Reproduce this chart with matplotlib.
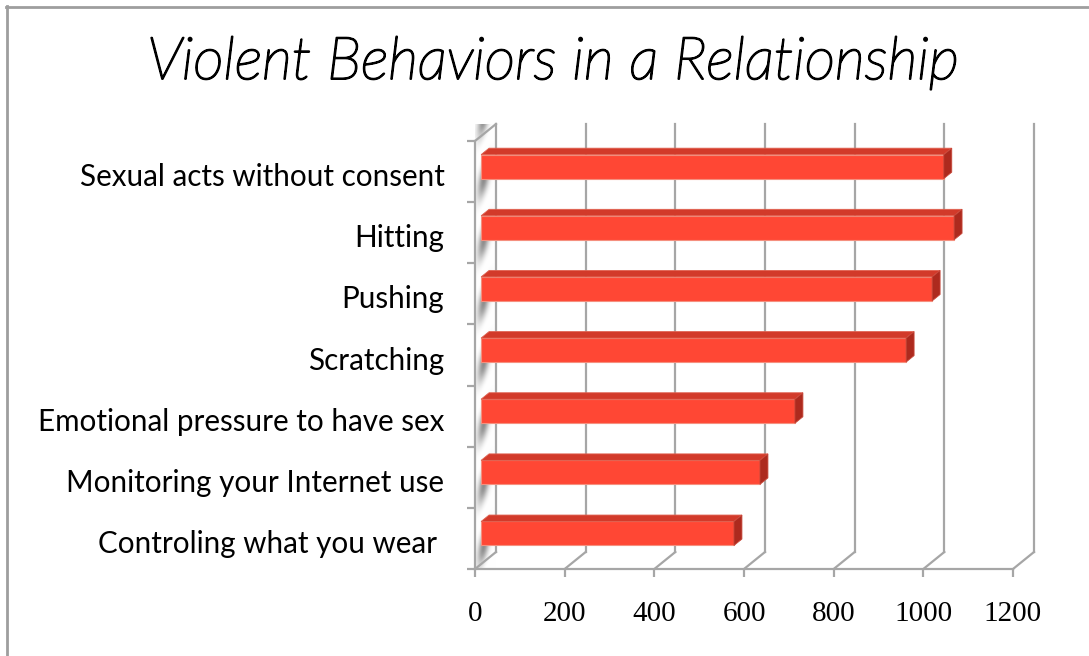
import numpy as np
import matplotlib.pyplot as plt
import matplotlib.patheffects as pe
from matplotlib.patches import Polygon
from matplotlib.lines import Line2D
from matplotlib.transforms import ScaledTranslation

categories = [
    "Controling what you wear ",
    "Monitoring your Internet use",
    "Emotional pressure to have sex",
    "Scratching",
    "Pushing",
    "Hitting",
    "Sexual acts without consent",
]
counts = [564, 622, 700, 948, 1006, 1055, 1032]
xticks = [0, 200, 400, 600, 800, 1000, 1200]
title = "Violent Behaviors in a Relationship"

grid_col = "#a6a6a6"
face_col = "#ff4734"
top_col = "#d23a2a"
side_col = "#ad2a1e"

W, H = 1089, 656
fig = plt.figure(figsize=(W / 100, H / 100), dpi=100)
fig.patch.set_facecolor("white")

# front plane of the 3-D box, in pixels
left, right, bottom, top = 475, 1013, 569, 141
ax = fig.add_axes([left / W, 1 - bottom / H, (right - left) / W, (bottom - top) / H])
ax.set_xlim(0, 1200)
ax.set_ylim(-0.5, 6.5)

px_x = 1200 / (right - left)          # data units per pixel (x)
px_y = 7 / (bottom - top)             # data units per pixel (y)
Dx, Dy = 21 * px_x, 17 * px_y         # depth of the box

# left wall with a grey sheen streaking under each bar
wall = Polygon([(0, -0.5), (0, 6.5), (Dx, 6.5 + Dy), (Dx, -0.5 + Dy)],
               closed=True, facecolor="white", edgecolor="none", zorder=1,
               clip_on=False)
ax.add_patch(wall)
nx, ny = 60, 900
u = np.linspace(0, 1, nx)
yy = np.linspace(-0.5, 6.5 + Dy, ny)
U, Y = np.meshgrid(u, yy)
yw = Y - U * Dy * 2.2
t = np.mod(yw + 0.5, 1.0)
across = np.exp(-((U - 0.42) / 0.3) ** 2)
band = 0.5 + 0.5 * np.cos(2 * np.pi * (t - 0.12))
shade = 1 - 0.45 * across * band ** 1.5
img = ax.imshow(np.dstack([shade] * 3), extent=[0, Dx, -0.5, 6.5 + Dy],
                origin="lower", aspect="auto", zorder=1.1, clip_on=False,
                interpolation="bilinear")
img.set_clip_path(wall)

# back-wall gridlines and floor diagonals
for x in xticks:
    ax.add_line(Line2D([x + Dx, x + Dx], [-0.5 + Dy, 6.5 + Dy], color=grid_col,
                       lw=1.6, zorder=1.5, clip_on=False))
    ax.add_line(Line2D([x, x + Dx], [-0.5, -0.5 + Dy], color=grid_col,
                       lw=1.6, zorder=1.5, clip_on=False))
ax.add_line(Line2D([0, Dx], [6.5, 6.5 + Dy], color=grid_col, lw=1.6,
                   zorder=1.5, clip_on=False))

# 3-D bars
f0, f1 = 0.29, 0.67
x0 = f0 * Dx
bdx, bdy = (f1 - f0) * Dx, (f1 - f0) * Dy
bh = 24 * px_y
pos = np.arange(len(categories))
yc = pos + f0 * Dy
ax.barh(yc, counts, left=x0, height=bh, color=face_col,
        edgecolor="#f5907f", linewidth=0.8, zorder=3)
for y, v in zip(yc, counts):
    yt, yb = y + bh / 2, y - bh / 2
    xe = x0 + v
    ax.add_patch(Polygon([(x0, yt), (xe, yt), (xe + bdx, yt + bdy), (x0 + bdx, yt + bdy)],
                         closed=True, facecolor=top_col, edgecolor="#e0604f",
                         lw=0.6, zorder=3, clip_on=False))
    ax.add_patch(Polygon([(xe, yb), (xe, yt), (xe + bdx, yt + bdy), (xe + bdx, yb + bdy)],
                         closed=True, facecolor=side_col, edgecolor="#c8483a",
                         lw=0.6, zorder=3, clip_on=False))

# axes, ticks and labels
for s in ["top", "right"]:
    ax.spines[s].set_visible(False)
for s in ["left", "bottom"]:
    ax.spines[s].set_color(grid_col)
    ax.spines[s].set_linewidth(1.6)
    ax.spines[s].set_zorder(2)
ax.set_facecolor("none")

ax.set_xticks(xticks)
ax.set_xticklabels([str(v) for v in xticks], fontfamily="Liberation Serif",
                   fontsize=21)
ax.tick_params(axis="x", length=6, width=1.6, color=grid_col, pad=17)

ax.set_yticks(pos)
ax.set_yticklabels(categories, fontfamily="Lato", fontsize=21.3)
ax.set_yticks(np.arange(-0.5, 7, 1), minor=True)
ax.tick_params(axis="y", which="major", length=0, pad=22)
ax.tick_params(axis="y", which="minor", length=6, width=1.6, color=grid_col)
shift = ScaledTranslation(0, -3 / 100, fig.dpi_scale_trans)
for lab in ax.get_yticklabels():
    lab.set_transform(lab.get_transform() + shift)

# thin italic title, stroked so the pen lines read black
fig.text(553 / W, 1 - 63 / H, title, ha="center", va="center", color="black",
         fontfamily="Lato", fontstyle="italic", fontweight="light", fontsize=42.5,
         path_effects=[pe.withStroke(linewidth=1.4, foreground="black")])

# outer frame
fig.add_artist(Line2D([6 / W, 1], [1 - 6.5 / H, 1 - 6.5 / H],
                      transform=fig.transFigure, color="#9e9e9e", lw=2))
fig.add_artist(Line2D([6.5 / W, 6.5 / W], [0, 1 - 6 / H],
                      transform=fig.transFigure, color="#9e9e9e", lw=2))

fig.savefig("out.png", dpi=100)
